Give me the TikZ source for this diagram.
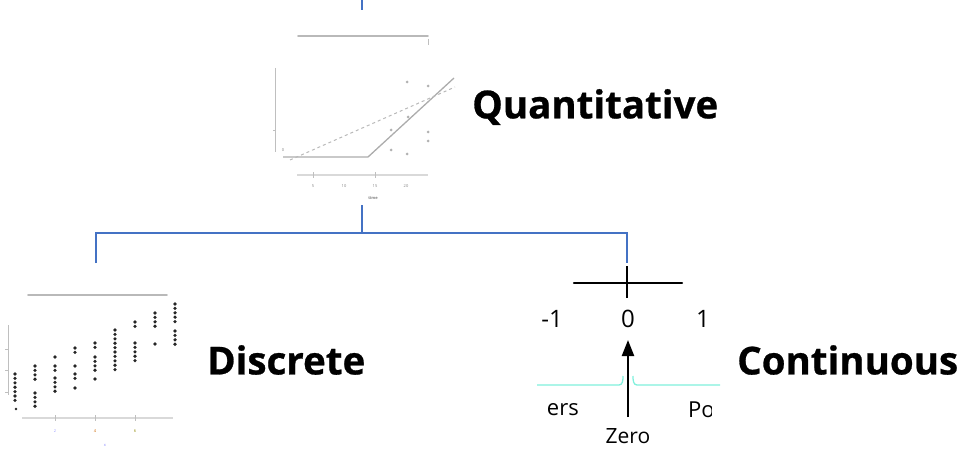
\documentclass[tikz,border=0pt]{standalone}
\usepackage{fontspec}
\setmainfont{Open Sans}
\newfontfamily\bigfont{Open Sans}[BoldFeatures={FakeBold=0.7}]
\usetikzlibrary{arrows.meta}
\definecolor{treeblue}{HTML}{4472C4}
\definecolor{cyanline}{HTML}{80F0DC}
\tikzset{
  treeline/.style={draw=treeblue, line width=1.1pt},
  biglabel/.style={anchor=west, inner sep=0pt, font=\bigfont\fontsize{38.5}{44}\selectfont\bfseries},
  axislbl/.style={inner sep=0pt, font=\fontsize{24}{28}\selectfont},
  tinylbl/.style={inner sep=0pt, font=\fontsize{4}{5}\selectfont, text=gray},
  frameline/.style={draw=gray!55, line width=1.8pt, line cap=round},
  axisthin/.style={draw=gray!50, line width=0.6pt},
  baseaxis/.style={draw=gray!30, line width=1.4pt},
  qpt/.style={fill=gray!60, draw=none},
  dpt/.style={fill=black!85, draw=none},
}
\begin{document}
\begin{tikzpicture}[x=1pt,y=-1pt]
\useasboundingbox (0,0) rectangle (973,449);

% ---------- tree connectors ----------
\coordinate (top) at (362,0);
\coordinate (qbot) at (362,10);
\coordinate (qout) at (362,205);
\coordinate (junc) at (362,233);
\coordinate (dl) at (96,233);
\coordinate (dend) at (96,263);
\coordinate (cl) at (627,233);
\coordinate (cend) at (627,263);
\draw[treeline] (top) -- (qbot);
\draw[treeline] (qout) -- (junc);
\draw[treeline] (dend) -- (dl) -- (cl) -- (cend);

% ---------- Quantitative chart ----------
\draw[frameline] (298,36) -- (428,36);
\draw[axisthin] (428,39) -- (428,45);
\draw[axisthin] (275,68) -- (275,152);
\draw[axisthin] (273,130) -- (275,130);
\draw[baseaxis] (297,175) -- (428,175);
\foreach \tx in {313,375} \draw[axisthin] (\tx,172) -- (\tx,178);
\node[tinylbl] (q5) at (313,186) {5};
\node[tinylbl] (q10) at (344,186) {10};
\node[tinylbl] (q15) at (375,186) {15};
\node[tinylbl] (q20) at (406,186) {20};
\node[tinylbl, font=\fontsize{4}{5}\selectfont\bfseries] (qtime) at (373,198) {time};
\node[tinylbl] (q0) at (283,150) {0};
\draw[gray!65, line width=1.3pt] (283,157) -- (368,157) -- (454,78);
\draw[gray!55, line width=1pt, dashed] (290,160) -- (455,87);
\foreach \px/\py in {407/82,428/86,408/117,391/130,428/132,428/141,391/150,407/154}
  \fill[qpt] (\px,\py) circle (1.5pt);

% ---------- Discrete chart ----------
\draw[frameline] (28,295) -- (167,295);
\draw[axisthin] (8,325) -- (8,395);
\foreach \ty in {349,370,392} \draw[axisthin] (5,\ty) -- (8,\ty);
\draw[baseaxis] (22,418) -- (173,418);
\foreach \tx in {55,95,135} \draw[axisthin] (\tx,415) -- (\tx,421);
\node[tinylbl, text=blue!40] (d2) at (55,431) {2};
\node[tinylbl, text=orange!80!black] (d4) at (95,431) {4};
\node[tinylbl, text=olive] (d6) at (135,431) {6};
\node[tinylbl, text=blue!50] (dx) at (105,445) {x};
\foreach \cx/\ya/\n in {15/374/7, 35/366/4, 35/393/4, 55/357/1, 55/366/2, 55/378/4,
  75/348/2, 75/366/1, 75/374/2, 75/388/1, 95/343/2, 95/357/4, 95/379/1,
  115/330/10, 135/322/2, 135/343/5, 155/313/4, 155/344/1, 175/304/5, 175/331/4}
  \foreach \k in {1,...,\n}
    \fill[dpt] (\cx,{\ya+(\k-1)*4.4}) circle (1.8pt);
\fill[dpt] (16,409) circle (1.4pt);

% ---------- Continuous chart ----------
\draw[black, line width=2.2pt, line cap=round] (574,283) -- (682,283);
\draw[black, line width=1.3pt] (627,266) -- (627,298);
\node[axislbl] (cm1) at (552,319) {-1};
\node[axislbl] (c0) at (628,319) {0};
\node[axislbl] (c1) at (703,319) {1};
\draw[cyanline, line width=1.3pt] (537,385) -- (619,385) to[out=0,in=-90] (623,376);
\draw[cyanline, line width=1.3pt] (633,376) to[out=-90,in=180] (637,385) -- (720,385);
\node[inner sep=0pt, font=\fontsize{21}{24}\selectfont] (zero) at (628,436) {Zero};
\coordinate (arrowbase) at (628,417);
\coordinate (arrowtip) at (628,340);
\draw[black, line width=2.2pt, -{Triangle[length=16pt,width=12pt]}] (arrowbase) -- (arrowtip);
\begin{scope}
  \clip (537,395) rectangle (711,425);
  \node[inner sep=0pt, font=\fontsize{22}{26}\selectfont, anchor=east] (ers) at (579,410) {ers};
  \node[inner sep=0pt, font=\fontsize{22}{26}\selectfont, anchor=west] (po) at (688,410) {Po};
\end{scope}

% ---------- labels ----------
\node[biglabel] (quant) at (472,107) {Quantitative};
\node[biglabel] (disc) at (207,360) {Discrete};
\node[biglabel] (cont) at (737,360) {Continuous};
\end{tikzpicture}
\end{document}
